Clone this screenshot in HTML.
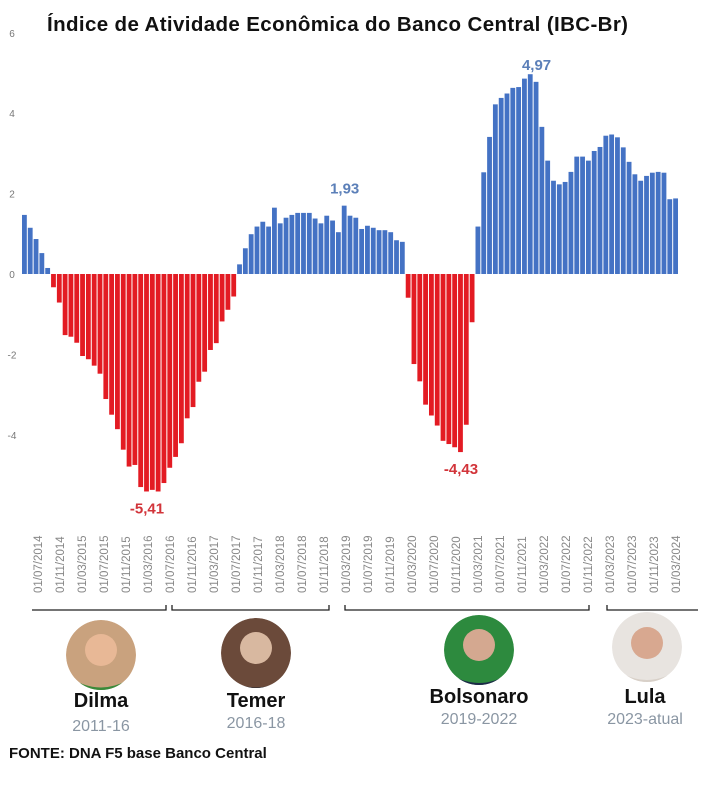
<!DOCTYPE html>
<html><head><meta charset="utf-8"><style>
body{margin:0;background:#fff;width:705px;height:797px;overflow:hidden;font-family:"Liberation Sans",sans-serif}
</style></head><body>
<svg id="chart" width="705" height="797" xmlns="http://www.w3.org/2000/svg" font-family="Liberation Sans, sans-serif">
<defs>
<clipPath id="c1"><circle cx="101" cy="655" r="35"/></clipPath>
<clipPath id="c2"><circle cx="256" cy="653" r="35"/></clipPath>
<clipPath id="c3"><circle cx="479" cy="650" r="35"/></clipPath>
<clipPath id="c4"><circle cx="647" cy="647" r="35"/></clipPath>
</defs>
<text x="47" y="31" font-size="20.5" font-weight="bold" fill="#111" textLength="581">Índice de Atividade Econômica do Banco Central (IBC-Br)</text>
<g id="yaxis"></g><g id="bars"></g><g id="xlabels"></g><g id="vals"></g>
<g stroke="#222" stroke-width="1.3" fill="none">
<path d="M32 610H166V605"/><path d="M172 605V610H329V605"/><path d="M345 605V610H589V605"/><path d="M607 605V610H698"/>
</g>
<g>
<g clip-path="url(#c1)"><circle cx="101" cy="655" r="35" fill="#c9a27e"/><circle cx="101" cy="650" r="16" fill="#e8b896"/><path d="M66 675 Q101 700 136 675 L136 692 L66 692Z" fill="#3a8a3a"/></g>
<text x="101" y="707" text-anchor="middle" font-size="20" font-weight="bold" fill="#111">Dilma</text>
<text x="101" y="731" text-anchor="middle" font-size="16" fill="#8a96a3">2011-16</text></g>
<g>
<g clip-path="url(#c2)"><circle cx="256" cy="653" r="35" fill="#6b4a3a"/><circle cx="256" cy="648" r="16" fill="#d8b8a0"/><path d="M221 675 Q256 700 291 675 L291 692 L221 692Z" fill="#1e2430"/></g>
<text x="256" y="707" text-anchor="middle" font-size="20" font-weight="bold" fill="#111">Temer</text>
<text x="256" y="728" text-anchor="middle" font-size="16" fill="#8a96a3">2016-18</text></g>
<g>
<g clip-path="url(#c3)"><circle cx="479" cy="650" r="35" fill="#2d8a3e"/><circle cx="479" cy="645" r="16" fill="#d4a890"/><path d="M444 670 Q479 696 514 670 L514 688 L444 688Z" fill="#1c2a48"/></g>
<text x="479" y="703" text-anchor="middle" font-size="20" font-weight="bold" fill="#111">Bolsonaro</text>
<text x="479" y="724" text-anchor="middle" font-size="16" fill="#8a96a3">2019-2022</text></g>
<g>
<g clip-path="url(#c4)"><circle cx="647" cy="647" r="35" fill="#e8e4e0"/><circle cx="647" cy="643" r="16" fill="#d8a890"/><path d="M612 667 Q647 693 682 667 L682 684 L612 684Z" fill="#d8d0c8"/></g>
<text x="645" y="703" text-anchor="middle" font-size="20" font-weight="bold" fill="#111">Lula</text>
<text x="645" y="724" text-anchor="middle" font-size="16" fill="#8a96a3">2023-atual</text></g>
<text x="9" y="758" font-size="15" font-weight="bold" fill="#111">FONTE: DNA F5 base Banco Central</text>
</svg>
<script>
const values=[1.47,1.15,0.87,0.52,0.15,
-0.33,-0.71,-1.52,-1.56,-1.71,-2.04,-2.12,-2.28,-2.48,-3.11,-3.50,-3.86,-4.37,-4.79,-4.75,-5.30,-5.41,-5.37,-5.41,-5.20,-4.82,-4.55,-4.21,-3.59,-3.31,-2.68,-2.43,-1.89,-1.72,-1.18,-0.89,-0.56,
0.24,0.64,0.99,1.18,1.30,1.18,1.65,1.26,1.40,1.47,1.52,1.52,1.52,1.38,1.26,1.45,1.33,1.04,1.70,1.45,1.40,1.12,1.20,1.15,1.09,1.09,1.04,0.84,0.80,
-0.59,-2.24,-2.67,-3.25,-3.52,-3.77,-4.15,-4.23,-4.31,-4.43,-3.75,-1.20,
1.18,2.53,3.41,4.22,4.38,4.49,4.63,4.65,4.86,4.97,4.78,3.66,2.82,2.32,2.23,2.29,2.54,2.92,2.92,2.82,3.06,3.16,3.44,3.47,3.40,3.15,2.79,2.48,2.32,2.44,2.52,2.54,2.52,1.86,1.88];
const yTicks=[6,4,2,0,-2,-4];
const annotationIdx=[55,21,75,88];
const annotationText=["1,93","-5,41","-4,43","4,97"];
const xLabels=[];
(function(){const ms=["03","07","11"];let y=2014,m=1;for(let i=0;i<30;i++){xLabels.push("01/"+ms[m]+"/"+y);m++;if(m>2){m=0;y++;}}})();
const NS="http://www.w3.org/2000/svg";
const y0=274,k=40.2,xL=22,xR=679;
const Y=v=>y0-v*k;const bw=(xR-xL)/values.length;const X=i=>xL+i*bw;
function el(t,a,p){const e=document.createElementNS(NS,t);for(const q in a)e.setAttribute(q,a[q]);document.getElementById(p).appendChild(e);return e;}
yTicks.forEach(t=>{const e=el("text",{x:12,y:Y(t)+4,"text-anchor":"middle","font-size":"10",fill:"#777"},"yaxis");e.textContent=t;

});
values.forEach((v,i)=>{const r=el("rect",{x:X(i),y:Math.min(Y(v),y0),width:bw-1,height:Math.abs(Y(v)-y0),fill:v>=0?"#4472c4":"#e31b23"},"bars");

});
annotationIdx.forEach((idx,j)=>{const v=values[idx];const ty=v>=0?Y(v)-12:Y(v)+22;
const e=el("text",{x:X(idx)+bw/2,y:ty,"text-anchor":"middle","font-size":"15","font-weight":"bold",fill:v>=0?"#5b7fb8":"#d2343a"},"vals");e.textContent=annotationText[j];

});
xLabels.forEach((l,i)=>{const x=38+i*22;const e=el("text",{transform:"translate("+(x+4)+",593) rotate(-90)","font-size":"11.5",fill:"#888"},"xlabels");e.textContent=l;

});
</script>
</body></html>
